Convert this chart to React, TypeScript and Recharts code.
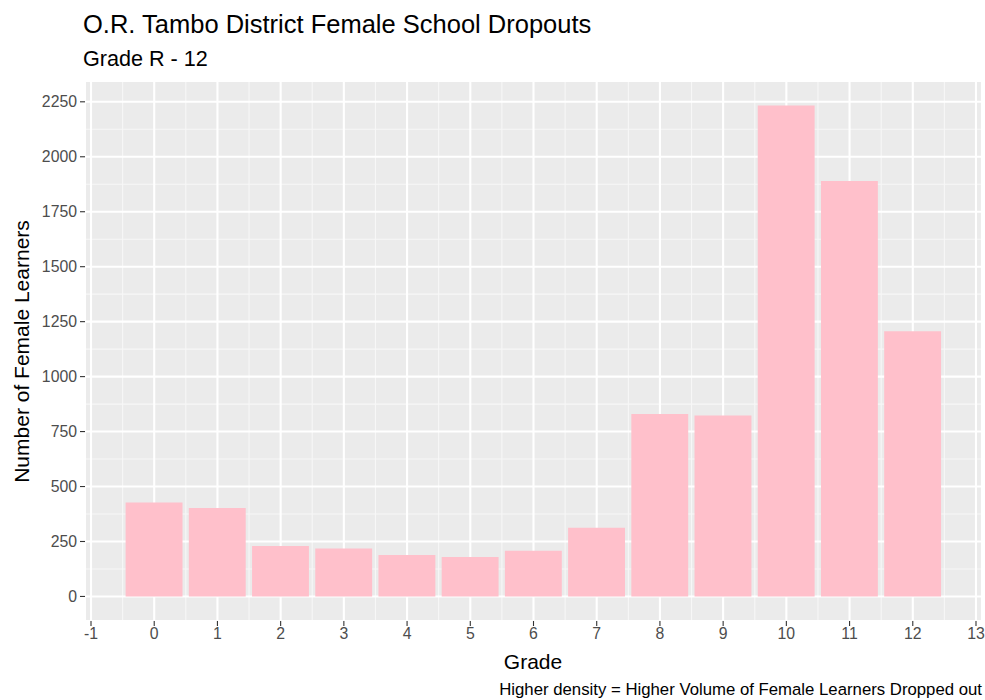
import React from 'react';
import { BarChart, Bar, XAxis, YAxis, CartesianGrid } from 'recharts';

const grades = [0, 1, 2, 3, 4, 5, 6, 7, 8, 9, 10, 11, 12];
const dropouts = [427, 402, 229, 218, 188, 180, 208, 312, 830, 823, 2233, 1890, 1206];

const xTicks = [-1, 0, 1, 2, 3, 4, 5, 6, 7, 8, 9, 10, 11, 12, 13];
const xMinor = [-0.5, 0.5, 1.5, 2.5, 3.5, 4.5, 5.5, 6.5, 7.5, 8.5, 9.5, 10.5, 11.5, 12.5];
const yTicks = [0, 250, 500, 750, 1000, 1250, 1500, 1750, 2000, 2250];
const yMinor = [125, 375, 625, 875, 1125, 1375, 1625, 1875, 2125];

const data = grades.map((g, i) => ({ grade: g, count: dropouts[i] }));

// ggplot-like expansion of 5% on each side
const yMax = Math.max(...dropouts);
const xDomain = [-0.45 - 0.645, 12.45 + 0.645];
const yDomain = [-yMax * 0.05, yMax * 1.05];

const W = 985;
const H = 700;
const LEFT = 85;
const RIGHT = 3;
const TOP = 81;
const BOTTOM = 79;
const barPx = (0.9 * (W - LEFT - RIGHT)) / (xDomain[1] - xDomain[0]);

const font = '"Liberation Sans", Arial, sans-serif';
const tickStyle = { fontSize: 15.8, fill: '#4D4D4D', fontFamily: font };

export default function App() {
  return (
    <div style={{ position: 'absolute', left: 0, top: 0, width: W, height: H, background: '#fff', fontFamily: font }}>
      <div style={{ position: 'absolute', left: 83, top: 12, fontSize: 25.5, lineHeight: 1, color: '#000', whiteSpace: 'nowrap' }}>
        O.R. Tambo District Female School Dropouts
      </div>
      <div style={{ position: 'absolute', left: 83, top: 48, fontSize: 21.6, lineHeight: 1, color: '#000', whiteSpace: 'nowrap' }}>
        Grade R - 12
      </div>
      <BarChart width={W} height={H} data={data} margin={{ top: TOP, right: RIGHT, bottom: 0, left: 0 }}>
        <CartesianGrid fill="#EBEBEB" stroke="#F7F7F7" strokeWidth={1.1} xAxisId="minor" yAxisId="minor" />
        <CartesianGrid stroke="#FFFFFF" strokeWidth={2.1} />
        <XAxis xAxisId="minor" type="number" dataKey="grade" domain={xDomain} ticks={xMinor} allowDataOverflow interval={0} hide />
        <YAxis yAxisId="minor" type="number" domain={yDomain} ticks={yMinor} allowDataOverflow interval={0} hide />
        <XAxis
          dataKey="grade"
          type="number"
          domain={xDomain}
          ticks={xTicks}
          allowDataOverflow
          interval={0}
          height={BOTTOM}
          axisLine={false}
          tickLine={{ stroke: '#333333', strokeWidth: 1.1 }}
          tickSize={5}
          tickMargin={2}
          tick={tickStyle}
        />
        <YAxis
          type="number"
          domain={yDomain}
          ticks={yTicks}
          allowDataOverflow
          interval={0}
          width={LEFT}
          axisLine={false}
          tickLine={{ stroke: '#333333', strokeWidth: 1.1 }}
          tickSize={5}
          tickMargin={3}
          tick={tickStyle}
        />
        <Bar dataKey="count" fill="#FFC0CB" barSize={barPx} isAnimationActive={false} />
      </BarChart>
      <div style={{ position: 'absolute', left: 433, top: 651, width: 200, textAlign: 'center', fontSize: 21, lineHeight: 1, color: '#000' }}>
        Grade
      </div>
      <div
        style={{
          position: 'absolute',
          left: 21 - 300,
          top: 351 - 10.5,
          width: 600,
          textAlign: 'center',
          fontSize: 21,
          lineHeight: 1,
          color: '#000',
          transform: 'rotate(-90deg)',
          whiteSpace: 'nowrap',
        }}
      >
        Number of Female Learners
      </div>
      <div style={{ position: 'absolute', right: 3, top: 682, fontSize: 16.75, lineHeight: 1, color: '#000', whiteSpace: 'nowrap' }}>
        Higher density = Higher Volume of Female Learners Dropped out
      </div>
    </div>
  );
}
